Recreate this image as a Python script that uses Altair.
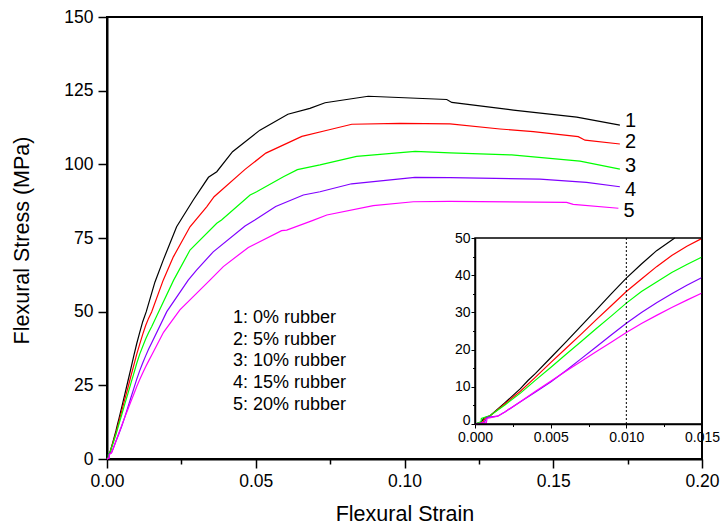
import altair as alt
import pandas as pd

# ---- data ----
series_ids = ["1", "2", "3", "4", "5"]
series_names = ["0% rubber", "5% rubber", "10% rubber", "15% rubber", "20% rubber"]
colors = ["#000000", "#ff0000", "#00ff00", "#8000ff", "#ff00ff"]

s1_strain = [0, 0.0004, 0.0006, 0.001, 0.002, 0.003, 0.0035, 0.004, 0.005, 0.006, 0.007, 0.008, 0.009,
             0.010, 0.011, 0.012, 0.0132, 0.0161, 0.0189, 0.0234, 0.029, 0.0341, 0.0369, 0.0422, 0.0514,
             0.0608, 0.0682, 0.0733, 0.0878, 0.1000, 0.1142, 0.1159, 0.1366, 0.1579, 0.1724]
s1_stress = [0, 0.5, 1.6, 2.2, 5.8, 9.5, 11.7, 13.6, 17.8, 22.0, 26.3, 30.6, 35.0,
             39.2, 43.0, 46.6, 50.0, 60.0, 67.5, 78.8, 87.9, 95.6, 97.5, 104.3, 111.6,
             117.0, 119.0, 120.9, 123.1, 122.6, 122.0, 121.0, 118.4, 116.0, 113.3]

s2_strain = [0, 0.0005, 0.0007, 0.001, 0.002, 0.003, 0.004, 0.005, 0.006, 0.007, 0.008, 0.009, 0.010,
             0.011, 0.012, 0.013, 0.014, 0.015, 0.0189, 0.0223, 0.0279, 0.0335, 0.0360, 0.0464, 0.0534,
             0.0655, 0.0733, 0.0823, 0.0985, 0.1153, 0.1321, 0.1433, 0.1584, 0.1607, 0.1724]
s2_stress = [0, 0.4, 1.7, 2.2, 5.5, 8.8, 12.6, 16.5, 20.3, 24.1, 28.0, 31.8, 35.6,
             39.0, 42.3, 45.3, 47.8, 49.9, 60.7, 68.6, 78.8, 85.6, 89.0, 98.3, 103.8,
             109.5, 111.4, 113.6, 113.9, 113.7, 112.0, 111.1, 109.4, 108.2, 106.9]

s3_strain = [0, 0.0004, 0.00042, 0.001, 0.002, 0.003, 0.004, 0.005, 0.006, 0.007, 0.008, 0.009, 0.010,
             0.011, 0.012, 0.013, 0.014, 0.015, 0.0167, 0.0224, 0.0279, 0.0369, 0.0385, 0.0481, 0.0503,
             0.0593, 0.0640, 0.0716, 0.0839, 0.1036, 0.1153, 0.1360, 0.1590, 0.1724]
s3_stress = [0, 0.6, 1.5, 2.3, 5.2, 8.3, 11.8, 15.2, 18.7, 22.1, 25.6, 29.0, 32.5,
             35.6, 38.2, 40.7, 42.9, 44.9, 48.5, 60.7, 70.9, 80.0, 81.1, 89.6, 90.7,
             95.8, 98.2, 99.8, 102.7, 104.4, 103.9, 103.2, 101.1, 98.4]

s4_strain = [0, 0.0006, 0.0008, 0.0015, 0.002, 0.003, 0.004, 0.005, 0.006, 0.007, 0.008, 0.009, 0.010,
             0.011, 0.012, 0.013, 0.014, 0.015, 0.0201, 0.0273, 0.0301, 0.0357, 0.0464, 0.0497, 0.0567,
             0.0660, 0.0716, 0.0822, 0.1035, 0.1153, 0.1455, 0.1612, 0.1724]
s4_stress = [0, 0.3, 1.8, 2.1, 3.3, 6.0, 8.6, 11.3, 14.3, 17.5, 20.7, 23.9, 27.1,
             30.0, 32.6, 35.0, 37.3, 39.4, 50.0, 60.7, 64.1, 70.3, 79.1, 81.1, 85.7,
             89.6, 90.7, 93.4, 95.6, 95.5, 95.0, 93.9, 92.4]

s5_strain = [0, 0.0005, 0.00075, 0.0008, 0.0015, 0.002, 0.003, 0.004, 0.005, 0.006, 0.007, 0.008, 0.009,
             0.010, 0.011, 0.012, 0.013, 0.014, 0.015, 0.019, 0.0245, 0.0346, 0.0391, 0.0475, 0.0587,
             0.0604, 0.0688, 0.0739, 0.0895, 0.1030, 0.1153, 0.1545, 0.1567, 0.1719]
s5_stress = [0, 0.3, 0.3, 1.5, 2.1, 3.3, 6.0, 8.8, 11.5, 14.2, 16.8, 19.4, 22.0,
             24.6, 27.0, 29.2, 31.3, 33.3, 35.2, 43.0, 50.6, 60.7, 65.3, 71.8, 77.5,
             77.7, 80.8, 82.8, 86.0, 87.3, 87.4, 87.1, 86.4, 85.1]

main_x_ticks = [0, 0.025, 0.05, 0.075, 0.10, 0.125, 0.15, 0.175, 0.20]
main_y_ticks = [0, 12.5, 25, 37.5, 50, 62.5, 75, 87.5, 100, 112.5, 125, 137.5, 150]
inset_x_ticks = [0, 0.0025, 0.005, 0.0075, 0.010, 0.0125, 0.015]
inset_y_ticks = [0, 5, 10, 15, 20, 25, 30, 35, 40, 45, 50]
inset_x_domain = [0, 0.015]
inset_y_domain = [0, 50]
marker_strain = 0.010

all_strain = [s1_strain, s2_strain, s3_strain, s4_strain, s5_strain]
all_stress = [s1_stress, s2_stress, s3_stress, s4_stress, s5_stress]

rows = []
for sid, xs, ys in zip(series_ids, all_strain, all_stress):
    for i, (a, b) in enumerate(zip(xs, ys)):
        rows.append({"series": sid, "strain": a, "stress": b, "idx": i})
df = pd.DataFrame(rows)
df_end = df.sort_values("idx").groupby("series", as_index=False).last()

legend_lines = [f"{i}: {n}" for i, n in zip(series_ids, series_names)]

FONT = "Liberation Sans"
W, H = 595, 442
label_dy = [-4, -2.5, -3, 3, 2.5]   # small nudges of the end labels (style)

color_enc = alt.Color("series:N", scale=alt.Scale(domain=series_ids, range=colors), legend=None)

# ---- main plot ----
xs_main = alt.Scale(domain=[0, 0.2], nice=False)
ys_main = alt.Scale(domain=[0, 150], nice=False)

x_major = "abs(datum.value*20 - round(datum.value*20)) < 1e-6"
y_major = "datum.value % 25 == 0"

x_axis_main = alt.Axis(
    values=main_x_ticks, title="Flexural Strain", grid=False, labelFlush=False,
    labelExpr=f"{x_major} ? format(datum.value, '.2f') : ''",
    tickSize={"condition": {"test": x_major, "value": 9}, "value": 5},
    tickColor="black", tickWidth=1.5, domainColor="black", domainWidth=2,
    labelFont=FONT, labelFontSize=17.5, labelColor="black", labelPadding=4,
    titleFont=FONT, titleFontSize=21.5, titleFontWeight="normal", titleColor="black",
    titleX=W / 2, titleY=55, titleBaseline="middle", titleAlign="center",
)
y_axis_main = alt.Axis(
    values=main_y_ticks, title="Flexural Stress (MPa)", grid=False, labelFlush=False,
    labelExpr=f"{y_major} ? format(datum.value, 'd') : ''",
    tickSize={"condition": {"test": y_major, "value": 9}, "value": 5},
    tickColor="black", tickWidth=1.5, domainColor="black", domainWidth=2,
    labelFont=FONT, labelFontSize=17.5, labelColor="black", labelPadding=5,
    titleFont=FONT, titleFontSize=21.5, titleFontWeight="normal", titleColor="black",
    titleX=-85, titleY=223, titleAngle=270, titleBaseline="middle", titleAlign="center",
)

main_lines = alt.Chart(df).mark_line(strokeWidth=1.2).encode(
    x=alt.X("strain:Q", scale=xs_main, axis=x_axis_main),
    y=alt.Y("stress:Q", scale=ys_main, axis=y_axis_main),
    color=color_enc,
    order=alt.Order("idx:Q"),
)

end_labels = [
    alt.Chart(df_end).transform_filter(f"datum.series == '{sid}'").mark_text(
        align="left", baseline="middle", dx=5, dy=d, font=FONT, fontSize=20, color="black"
    ).encode(
        x=alt.X("strain:Q", scale=xs_main),
        y=alt.Y("stress:Q", scale=ys_main),
        text="series:N",
    )
    for sid, d in zip(series_ids, label_dy)
]

legend_text = alt.Chart(pd.DataFrame({"a": [0]})).mark_text(
    text=legend_lines, align="left", baseline="alphabetic", lineHeight=21.7,
    font=FONT, fontSize=18, color="black",
).encode(x=alt.value(126), y=alt.value(306))

main = alt.layer(main_lines, *end_labels, legend_text)

# ---- inset ----
xs_in = alt.Scale(domain=inset_x_domain, range=[368, W], nice=False, zero=False)
ys_in = alt.Scale(domain=inset_y_domain, range=[407, 221], nice=False, zero=False)

ix_major = "abs(datum.value*200 - round(datum.value*200)) < 1e-6"
iy_major = "datum.value % 10 == 0"

x_axis_in = alt.Axis(
    values=inset_x_ticks, title=None, grid=False, orient="bottom", offset=-35, labelFlush=False,
    labelExpr=f"{ix_major} ? format(datum.value, '.3f') : ''",
    tickSize={"condition": {"test": ix_major, "value": 4}, "value": 2.5},
    tickColor="black", tickWidth=1, domainColor="black", domainWidth=1.5,
    labelFont=FONT, labelFontSize=14, labelColor="black", labelPadding=2.5,
)
y_axis_in = alt.Axis(
    values=inset_y_ticks, title=None, grid=False, orient="left", offset=-368, labelFlush=False,
    labelExpr=f"{iy_major} ? format(datum.value, 'd') : ''",
    labelBaseline={"condition": {"test": "datum.value == 0", "value": "alphabetic"}, "value": "middle"},
    tickSize={"condition": {"test": iy_major, "value": 4}, "value": 2.5},
    tickColor="black", tickWidth=1, domainColor="black", domainWidth=1.5,
    labelFont=FONT, labelFontSize=14, labelColor="black", labelPadding=1,
)

inset_lines = alt.Chart(df).transform_filter(
    f"datum.strain <= {inset_x_domain[1]} && datum.stress <= {inset_y_domain[1]}"
).mark_line(strokeWidth=1.2).encode(
    x=alt.X("strain:Q", scale=xs_in, axis=x_axis_in),
    y=alt.Y("stress:Q", scale=ys_in, axis=y_axis_in),
    color=color_enc,
    order=alt.Order("idx:Q"),
)

one = pd.DataFrame({"a": [0]})
inset_box = alt.Chart(one).mark_rect(fillOpacity=0, stroke="black", strokeWidth=1.5).encode(
    x=alt.X(datum=inset_x_domain[0], type="quantitative", scale=xs_in),
    x2=alt.X2(datum=inset_x_domain[1]),
    y=alt.Y(datum=inset_y_domain[0], type="quantitative", scale=ys_in),
    y2=alt.Y2(datum=inset_y_domain[1]),
)
inset_marker = alt.Chart(one).mark_rule(strokeDash=[2, 2], strokeWidth=1, color="black").encode(
    x=alt.X(datum=marker_strain, type="quantitative", scale=xs_in),
    y=alt.Y(datum=inset_y_domain[0], type="quantitative", scale=ys_in),
    y2=alt.Y2(datum=inset_y_domain[1]),
)

inset = alt.layer(inset_lines, inset_marker, inset_box)

chart = alt.layer(main, inset).resolve_scale(x="independent", y="independent").properties(
    width=W, height=H,
    autosize=alt.AutoSizeParams(type="none"),
    padding={"left": 107, "top": 17, "right": 20, "bottom": 71},
    background="white",
).configure_view(stroke="black", strokeWidth=2)

chart.save("out.html", embed_options={"renderer": "svg", "actions": False})
